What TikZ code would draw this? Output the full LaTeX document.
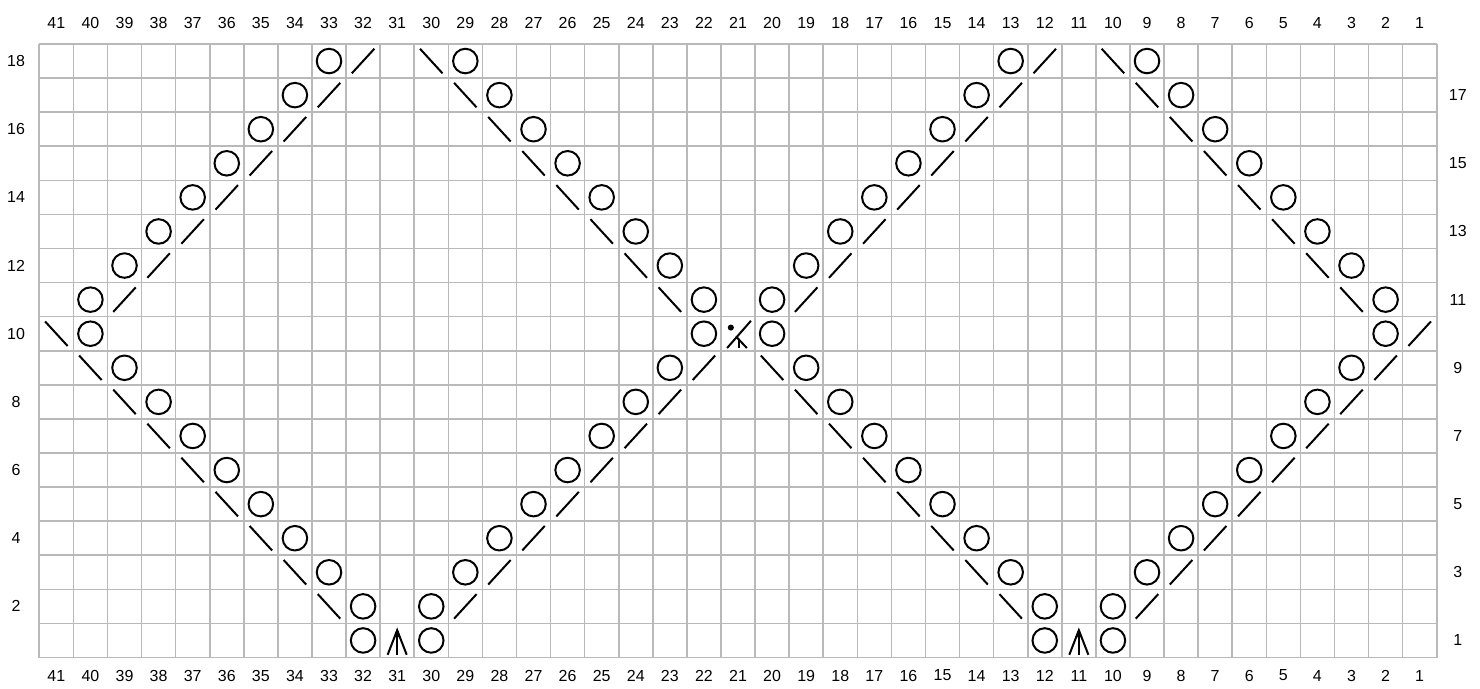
\documentclass[tikz,border=0pt]{standalone}
\usepackage{fontspec}
\setmainfont{Liberation Sans}
\usepackage{tikz}
\usetikzlibrary{positioning, calc}

% chart symbols, cell given by column (counted from the right) and row
\newcommand{\yarnover}[2]{\draw[symb] ({41-(#1)+0.5},{(#2)-0.5}) circle (0.36);}
\newcommand{\ktwotog}[2]{\draw[symb] ({41-(#1)+0.17},{(#2)-0.86}) -- ({41-(#1)+0.83},{(#2)-0.14});}
\newcommand{\sskdec}[2]{\draw[symb] ({41-(#1)+0.17},{(#2)-0.14}) -- ({41-(#1)+0.83},{(#2)-0.86});}
\newcommand{\cddec}[2]{%
  \draw[symb] ({41-(#1)+0.22},{(#2)-0.92}) -- ({41-(#1)+0.5},{(#2)-0.2}) -- ({41-(#1)+0.78},{(#2)-0.92});
  \draw[symb] ({41-(#1)+0.5},{(#2)-0.92}) -- ({41-(#1)+0.5},{(#2)-0.2});
  \fill ({41-(#1)+0.5},{(#2)-0.15}) -- ({41-(#1)+0.4},{(#2)-0.4}) -- ({41-(#1)+0.6},{(#2)-0.4}) -- cycle;}

\begin{document}
\begin{tikzpicture}[scale=0.6,
    gridline/.style={draw=gray!55, line width=0.8pt},
    symb/.style={line width=1pt},
    lbl/.style={font=\fontsize{8}{9}\selectfont, inner sep=0pt}]
    \useasboundingbox (-1.153,-0.92) rectangle (42.27,19.291);

    % Grid, 41 stitches by 18 rows
    \draw[gridline] (0,0) grid (41,18);

    % Stitch numbers above and below
    \foreach \c in {1,...,41} {
        \node[lbl] (top\c) at ({41-\c+0.5},18.62) {\c};
        \node[lbl] (bot\c) at ({41-\c+0.5},-0.53) {\c};
    }
    % Row numbers: even on the left, odd on the right
    \foreach \r in {2,4,...,18}
        \node[lbl] (row\r) at (-0.68,{\r-0.5}) {\r};
    \foreach \r in {1,3,...,17}
        \node[lbl] (row\r) at (41.62,{\r-0.5}) {\r};

    % Row 1: centred double decreases
    \yarnover{32}{1} \cddec{31}{1} \yarnover{30}{1}
    \yarnover{12}{1} \cddec{11}{1} \yarnover{10}{1}

    % Lower half of the diamonds
    \foreach \r in {2,...,10} {
        \sskdec{31+\r}{\r} \yarnover{30+\r}{\r}
        \yarnover{32-\r}{\r}
        \ifnum\r<10 \ktwotog{31-\r}{\r} \sskdec{11+\r}{\r} \fi
        \yarnover{10+\r}{\r}
        \yarnover{12-\r}{\r} \ktwotog{11-\r}{\r}
    }

    % Row 10, stitch 21
    \draw[symb] (20.18,9.08) -- (20.88,9.88);
    \fill (20.29,9.68) circle (0.09);
    \draw[symb] (20.44,9.42) -- (20.76,9.08);
    \draw[symb] (20.53,9.33) -- (20.53,9.08);

    % Upper half of the diamonds
    \foreach \r in {11,...,18} {
        \yarnover{51-\r}{\r} \ktwotog{50-\r}{\r}
        \sskdec{12+\r}{\r} \yarnover{11+\r}{\r}
        \yarnover{31-\r}{\r} \ktwotog{30-\r}{\r}
        \sskdec{\r-8}{\r} \yarnover{\r-9}{\r}
    }
\end{tikzpicture}
\end{document}
